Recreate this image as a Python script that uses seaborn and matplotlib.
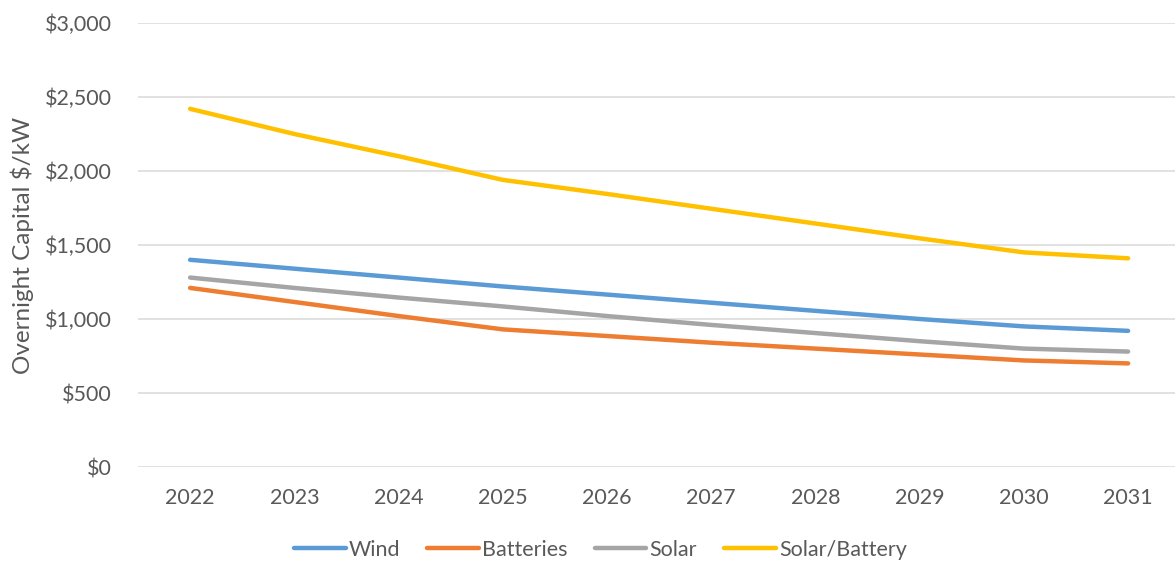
import matplotlib
matplotlib.use("Agg")
import matplotlib.pyplot as plt
import matplotlib.ticker as mticker
import pandas as pd
import seaborn as sns

# Overnight capital cost projections, $/kW
years = [2022, 2023, 2024, 2025, 2026, 2027, 2028, 2029, 2030, 2031]
wind = [1400, 1340, 1280, 1220, 1165, 1110, 1055, 1000, 950, 920]
batteries = [1210, 1115, 1020, 930, 885, 840, 800, 760, 720, 700]
solar = [1280, 1210, 1145, 1085, 1020, 960, 905, 850, 800, 780]
solar_battery = [2420, 2250, 2100, 1940, 1845, 1745, 1645, 1545, 1450, 1410]

series_names = ["Wind", "Batteries", "Solar", "Solar/Battery"]
series_values = [wind, batteries, solar, solar_battery]
colors = ["#5B9BD5", "#ED7D31", "#A5A5A5", "#FFC000"]

df = pd.DataFrame(
    [(y, name, v) for name, vals in zip(series_names, series_values) for y, v in zip(years, vals)],
    columns=["Year", "Technology", "Cost"],
)

sns.set_theme(style="white")
plt.rcParams["font.family"] = ["Lato", "DejaVu Sans"]
text_color = "#595959"

fig = plt.figure(figsize=(11.75, 5.61), dpi=100)
ax = fig.add_axes([138 / 1175, 1 - 467 / 561, 1 - 138 / 1175, (467 - 23) / 561])

sns.lineplot(
    data=df, x="Year", y="Cost", hue="Technology",
    hue_order=series_names, palette=colors,
    linewidth=3.2, ax=ax,
)

ax.set_xlim(2021.5, 2031.45)
ax.set_ylim(0, 3000)
ax.set_yticks(range(0, 3001, 500))
ax.set_xticks(years)
ax.yaxis.set_major_formatter(mticker.StrMethodFormatter("${x:,.0f}"))
ax.grid(axis="y", color="#D9D9D9", linewidth=1.1)
ax.set_axisbelow(True)
for s in ax.spines.values():
    s.set_visible(False)
ax.tick_params(axis="y", length=0, pad=19, labelsize=15.5, labelcolor=text_color)
ax.tick_params(axis="x", length=0, pad=15, labelsize=15.5, labelcolor=text_color)
ax.set_xlabel("")
ax.set_ylabel("Overnight Capital $/kW", fontsize=17.5, color=text_color)
ax.yaxis.set_label_coords(-0.1, 0.5)

for line in ax.lines:
    line.set_solid_capstyle("round")

handles, labels = ax.get_legend_handles_labels()
if ax.legend_:
    ax.legend_.remove()
leg = fig.legend(
    handles, labels, loc="center", bbox_to_anchor=(0.511, 0.02), ncol=4,
    frameon=False, fontsize=15.5, handlelength=2.4, handletextpad=0.15,
    columnspacing=1.25,
)
for t in leg.get_texts():
    t.set_color(text_color)
for h in leg.get_lines():
    h.set_linewidth(3.2)
    h.set_solid_capstyle("round")

fig.savefig("out.png", dpi=100, facecolor="white")
